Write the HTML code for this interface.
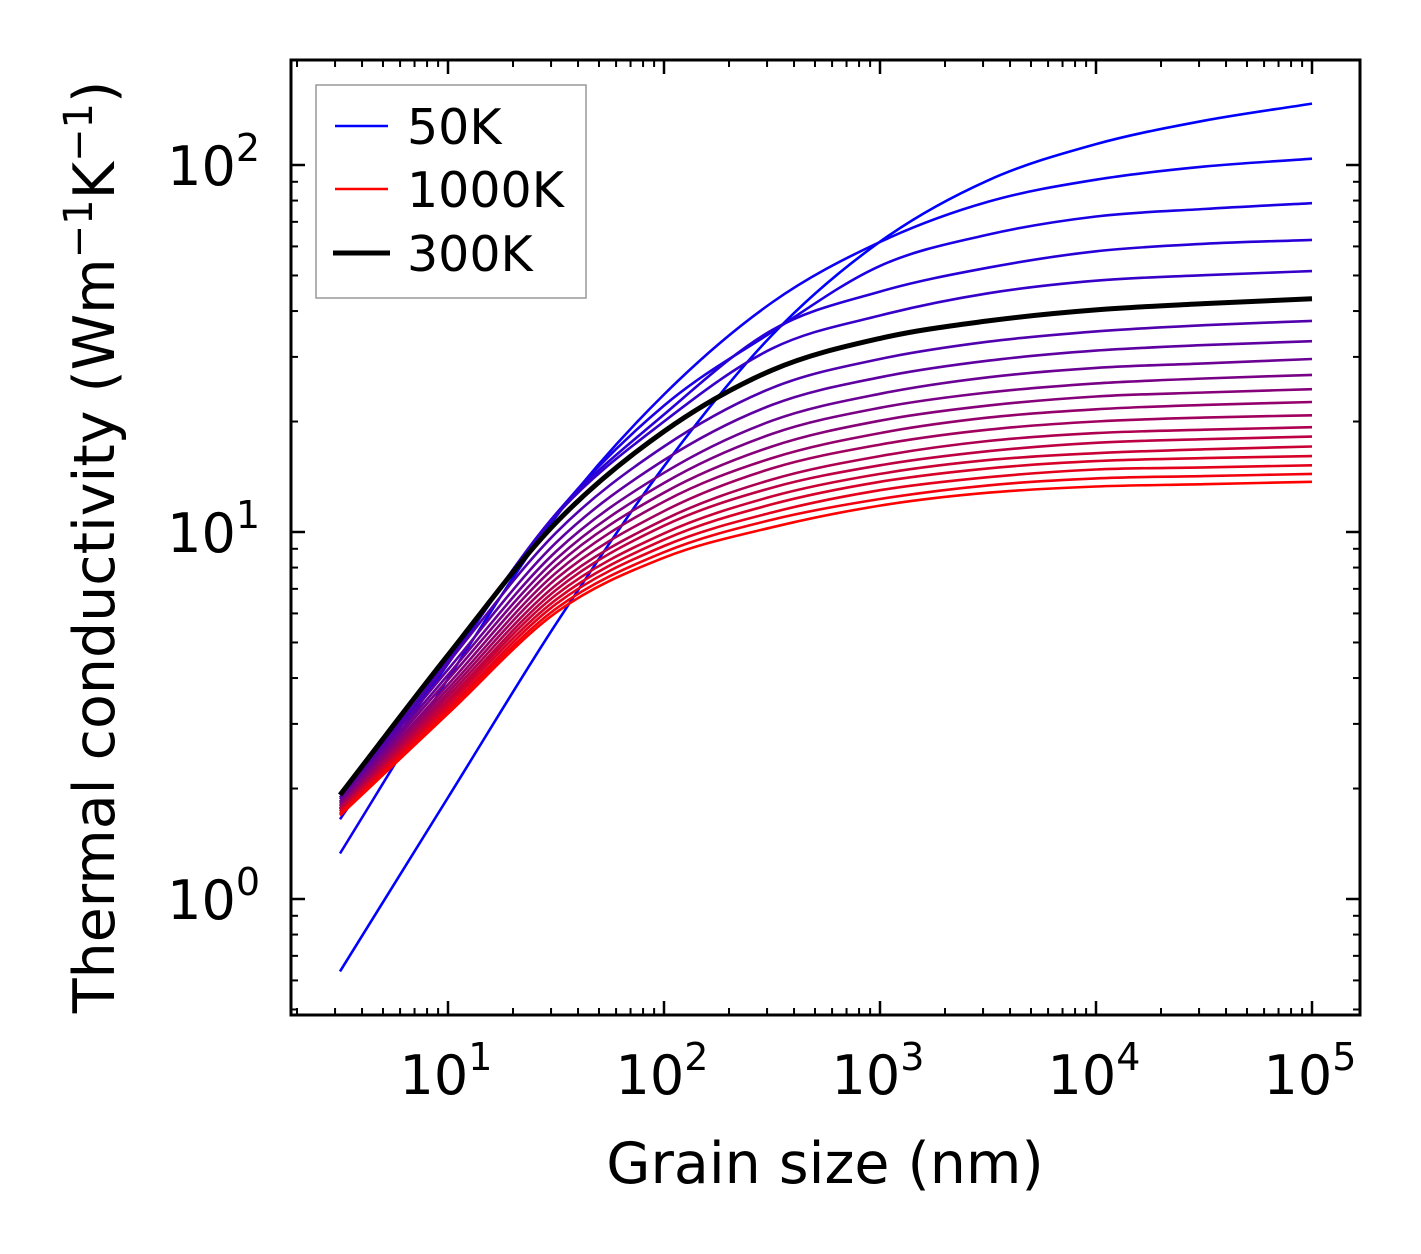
<!DOCTYPE html>
<html><head><meta charset="utf-8"><style>
html,body{margin:0;padding:0;background:#fff;}
svg{display:block;font-family:"DejaVu Sans","Liberation Sans",sans-serif;}
</style></head><body>
<svg id="chart" width="1421" height="1254" viewBox="0 0 1421 1254" xmlns="http://www.w3.org/2000/svg">
<rect x="0" y="0" width="1421" height="1254" fill="#fff"/>
<g id="ticks"></g>
<g id="curves"></g>
<rect x="291" y="60" width="1069" height="955" fill="none" stroke="#000" stroke-width="3"/>
<g id="xlabels"></g>
<g id="ylabels"></g>
<text x="825" y="1183" font-size="57" text-anchor="middle">Grain size (nm)</text>
<text transform="translate(114,547) rotate(-90)" font-size="57" text-anchor="middle">Thermal conductivity (Wm<tspan dy="-22" font-size="40">−1</tspan><tspan dy="22">K</tspan><tspan dy="-22" font-size="40">−1</tspan><tspan dy="22">)</tspan></text>
<g>
<rect x="316" y="85" width="270" height="213" fill="#fff" stroke="#999" stroke-width="1.5"/>
<line x1="335" y1="126" x2="388" y2="126" stroke="#0000ff" stroke-width="2.5"/>
<text x="407" y="144" font-size="49">50K</text>
<line x1="335" y1="189" x2="388" y2="189" stroke="#ff0000" stroke-width="2.5"/>
<text x="407" y="207" font-size="49">1000K</text>
<line x1="333" y1="253" x2="390" y2="253" stroke="#000" stroke-width="5"/>
<text x="407" y="271" font-size="49">300K</text>
</g>
</svg>
<script>
const grainSizes = [3.162, 10, 31.62, 100, 316.2, 1000, 3162, 10000, 31623, 100000];
const temperatures = [50,100,150,200,250,300,350,400,450,500,550,600,650,700,750,800,850,900,950,1000];
const k50 = [0.635,1.89,5.62,15.1,34.4,61.8,90.8,114,132,147];
const k100 = [1.33,3.98,11.0,23.7,42.2,61.7,79.4,91.2,99.0,104];
const k150 = [1.65,4.37,11.2,22.1,35.1,53.1,64.6,72.4,75.9,78.7];
const k200 = [1.76,4.42,11.2,20.9,35.5,45.2,52.5,58.2,61.0,62.5];
const k250 = [1.84,4.47,11.1,20.0,31.6,38.9,44.7,48.4,50.1,51.4];
const k300 = [1.92,4.62,10.6,18.8,27.6,33.7,37.6,40.3,41.9,43.2];
const k350 = [1.89,4.40,9.95,17.1,24.7,29.6,33.0,35.2,36.6,37.6];
const k400 = [1.87,4.22,9.35,15.7,22.2,26.4,29.3,31.2,32.3,33.1];
const k450 = [1.84,4.08,8.85,14.5,20.1,23.8,26.4,28.0,28.8,29.6];
const k500 = [1.82,3.96,8.43,13.6,18.5,21.8,24.0,25.4,26.2,26.8];
const k550 = [1.80,3.84,8.08,12.8,17.1,20.1,22.1,23.4,24.0,24.5];
const k600 = [1.79,3.74,7.74,12.1,15.9,18.6,20.5,21.6,22.2,22.6];
const k650 = [1.77,3.65,7.45,11.4,14.9,17.3,19.0,20.0,20.5,20.8];
const k700 = [1.76,3.57,7.17,10.8,13.9,16.1,17.7,18.6,19.0,19.3];
const k750 = [1.75,3.49,6.95,10.4,13.2,15.2,16.6,17.5,17.9,18.2];
const k800 = [1.73,3.43,6.74,9.91,12.5,14.4,15.7,16.4,16.8,17.1];
const k850 = [1.73,3.37,6.54,9.53,11.9,13.7,14.9,15.6,15.9,16.1];
const k900 = [1.71,3.30,6.36,9.16,11.3,13.0,14.1,14.8,15.0,15.2];
const k950 = [1.70,3.25,6.18,8.81,10.8,12.3,13.4,14.0,14.2,14.4];
const k1000 = [1.69,3.20,6.03,8.51,10.3,11.8,12.8,13.3,13.5,13.7];
const seriesList = [k50,k100,k150,k200,k250,k300,k350,k400,k450,k500,k550,k600,k650,k700,k750,k800,k850,k900,k950,k1000];
const xTickLabels = ["1","2","3","4","5"];
const yTickLabels = ["0","1","2"];

const NS = "http://www.w3.org/2000/svg";
function xs(v){ return 448 + (Math.log10(v) - 1) * 216; }
function ys(v){ return 899 - Math.log10(v) * 367; }
const X0 = 291, X1 = 1360, Y0 = 60, Y1 = 1015;

function mk(tag, attrs){ const e = document.createElementNS(NS, tag); for (const k in attrs) e.setAttribute(k, attrs[k]); return e; }

const tg = document.getElementById('ticks');
for (let d = 0; d <= 5; d++) {
  for (let m = 1; m <= 9; m++) {
    const v = m * Math.pow(10, d);
    const x = xs(v);
    if (x < X0 + 1 || x > X1 - 1) continue;
    const len = m === 1 ? 14 : 7;
    const w = m === 1 ? 2.5 : 2;
    const t1 = mk('line', {x1:x, y1:Y1, x2:x, y2:Y1 - len, stroke:'#000', 'stroke-width':w});
    
    
    tg.appendChild(t1);
    const t2 = mk('line', {x1:x, y1:Y0, x2:x, y2:Y0 + len, stroke:'#000', 'stroke-width':w});
    
    
    tg.appendChild(t2);
  }
}
for (let d = -1; d <= 2; d++) {
  for (let m = 1; m <= 9; m++) {
    const v = m * Math.pow(10, d);
    const y = ys(v);
    if (y < Y0 + 1 || y > Y1 - 1) continue;
    const len = m === 1 ? 14 : 7;
    const w = m === 1 ? 2.5 : 2;
    const t1 = mk('line', {x1:X0, y1:y, x2:X0 + len, y2:y, stroke:'#000', 'stroke-width':w});
    
    
    tg.appendChild(t1);
    const t2 = mk('line', {x1:X1, y1:y, x2:X1 - len, y2:y, stroke:'#000', 'stroke-width':w});
    
    
    tg.appendChild(t2);
  }
}

const xl = document.getElementById('xlabels');
xTickLabels.forEach(function(p){
  const x = xs(Math.pow(10, +p));
  const t = mk('text', {x: x - 2, y: 1094, 'font-size': 54, 'text-anchor': 'middle'});
  
  
  t.innerHTML = '10<tspan dy="-24" font-size="38">' + p + '</tspan>';
  xl.appendChild(t);
});
const yl = document.getElementById('ylabels');
yTickLabels.forEach(function(p){
  const y = ys(Math.pow(10, +p));
  const t = mk('text', {x: 260, y: y + 20, 'font-size': 54, 'text-anchor': 'end'});
  
  
  t.innerHTML = '10<tspan dy="-24" font-size="38">' + p + '</tspan>';
  yl.appendChild(t);
});

// monotone cubic (Fritsch-Carlson style) through points in log-log space
function pathFor(vals){
  const P = grainSizes.map(function(g, i){ return [xs(g), ys(vals[i])]; });
  const nP = P.length, dl = [], m = [];
  for (let i = 0; i < nP - 1; i++) dl.push((P[i+1][1] - P[i][1]) / (P[i+1][0] - P[i][0]));
  m[0] = dl[0]; m[nP-1] = dl[nP-2];
  for (let i = 1; i < nP - 1; i++) m[i] = (dl[i-1] * dl[i] <= 0) ? 0 : (dl[i-1] + dl[i]) / 2;
  let d = 'M' + P[0][0].toFixed(1) + ',' + P[0][1].toFixed(1);
  for (let i = 0; i < nP - 1; i++) {
    const h = P[i+1][0] - P[i][0];
    d += ' C' + (P[i][0] + h/3).toFixed(1) + ',' + (P[i][1] + m[i]*h/3).toFixed(1) + ' ' +
         (P[i+1][0] - h/3).toFixed(1) + ',' + (P[i+1][1] - m[i+1]*h/3).toFixed(1) + ' ' +
         P[i+1][0].toFixed(1) + ',' + P[i+1][1].toFixed(1);
  }
  return d;
}
const cg = document.getElementById('curves');
const n = seriesList.length;
let blackPath = null;
seriesList.forEach(function(vals, i){
  const f = i / (n - 1);
  const T = temperatures[i];
  const isBlack = T === 300;
  const color = isBlack ? '#000' : 'rgb(' + Math.round(255 * f) + ',0,' + Math.round(255 * (1 - f)) + ')';
  const p = mk('path', {d: pathFor(vals), fill: 'none', stroke: color, 'stroke-width': isBlack ? 5 : 2.6, 'stroke-linejoin': 'round'});
  
  
  if (isBlack) blackPath = p; else cg.appendChild(p);
});
if (blackPath) cg.appendChild(blackPath);
</script>
</body></html>
